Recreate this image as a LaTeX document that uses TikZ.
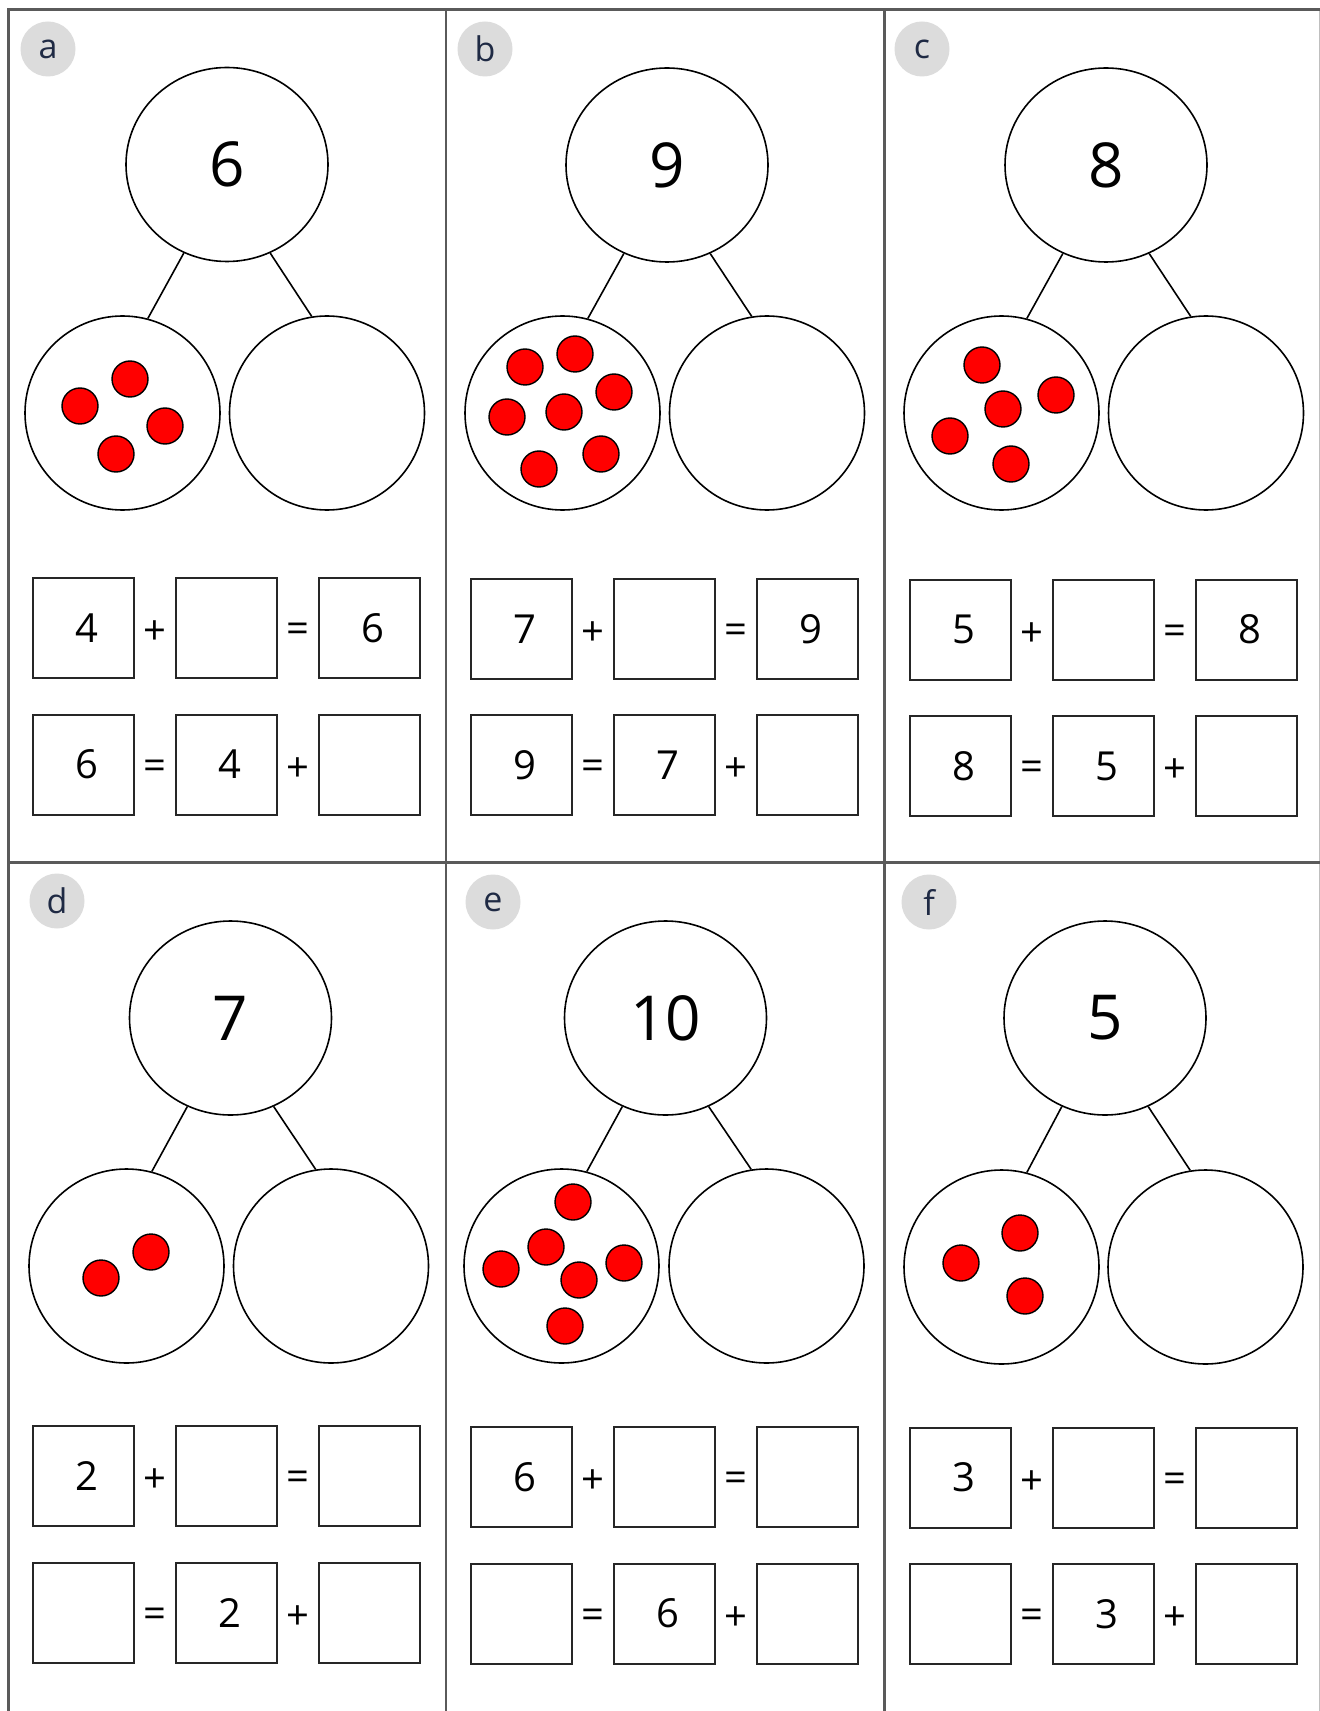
\documentclass[tikz,border=0pt]{standalone}
\usepackage{fontspec}
\setmainfont{Open Sans}
\usetikzlibrary{shapes.geometric}
\definecolor{framegray}{HTML}{5A5A5A}
\definecolor{labgray}{HTML}{DCDCDC}
\definecolor{dotred}{HTML}{FF0000}
\definecolor{labtext}{HTML}{1F2A44}
\tikzset{
  frameline/.style={draw=framegray, line width=1.3pt},
  topc/.style={ellipse, draw=black, line width=0.8pt, minimum width=101pt, minimum height=97pt, inner sep=0pt, font=\fontsize{31}{31}\selectfont},
  botc/.style={ellipse, draw=black, line width=0.8pt, minimum width=97.5pt, minimum height=97pt, inner sep=0pt},
  conn/.style={draw=black, line width=0.8pt},
  lab/.style={circle, fill=labgray, minimum size=27.5pt, inner sep=0pt, text=labtext, font=\fontsize{17}{17}\selectfont},
  eqbox/.style={rectangle, draw=black!85, line width=1pt, minimum width=50.5pt, minimum height=50pt, inner sep=0pt, font=\fontsize{20}{20}\selectfont},
  eqop/.style={inner sep=0pt, font=\fontsize{20}{20}\selectfont},
  dot/.style={circle, fill=dotred, draw=black, line width=0.7pt, minimum size=18pt, inner sep=0pt}
}
\newcommand\eqnum[1]{\hspace*{3pt}\raisebox{-1.5pt}{#1}}
\newcommand\pbond[7]{%
  \node[lab] (#1-lab) at #6 {#7};
  \node[topc] (#1-top) at #2 {#5};
  \node[botc] (#1-l) at #3 {};
  \node[botc] (#1-r) at #4 {};
  \draw[conn] (#1-top.244) -- (#1-l.75);
  \draw[conn] (#1-top.296) -- (#1-r.99);
}
\newcommand\peq[6]{%
  \node[eqbox] (#1-b1) at (#2,#3) {\eqnum{#5}};
  \node[eqbox] (#1-b2) at ({#2+143},#3) {};
  \node[eqbox] (#1-b3) at ({#2+286},#3) {\eqnum{#6}};
  \node[eqop] (#1-o1) at ({#2+71.5},{#3+5}) {+};
  \node[eqop] (#1-o2) at ({#2+214.5},{#3+5}) {=};
  \node[eqbox] (#1-c1) at (#2,#4) {\eqnum{#6}};
  \node[eqbox] (#1-c2) at ({#2+143},#4) {\eqnum{#5}};
  \node[eqbox] (#1-c3) at ({#2+286},#4) {};
  \node[eqop] (#1-p1) at ({#2+71.5},{#4+5}) {=};
  \node[eqop] (#1-p2) at ({#2+214.5},{#4+5}) {+};
}
\begin{document}
\begin{tikzpicture}[x=0.5pt, y=-0.5pt]
\useasboundingbox (0,0) rectangle (1320,1711);
\fill[white] (0,0) rectangle (1320,1711);
% frame
\draw[draw=black!25, line width=0.5pt] (1319,9.5) -- (1319,1711);
\draw[frameline] (8.5,1711) -- (8.5,9.5) -- (1320,9.5);
\draw[frameline] (446,9.5) -- (446,1711);
\draw[frameline] (884.5,9.5) -- (884.5,1711);
\draw[frameline] (8.5,862.5) -- (1320,862.5);
% panels
\pbond{a}{(227,164.5)}{(122.5,413)}{(327,413)}{6}{(48,49)}{a}
\pbond{b}{(667,165)}{(562.5,413)}{(767,413)}{9}{(485,49)}{b}
\pbond{c}{(1106,165)}{(1001.5,413)}{(1206,413)}{8}{(922,49)}{c}
\pbond{d}{(230.5,1018)}{(126.5,1266)}{(331,1266)}{7}{(57,901)}{d}
\pbond{e}{(665.5,1018)}{(561.5,1266)}{(766.5,1266)}{10}{(493,902)}{e}
\pbond{f}{(1105,1018)}{(1001.5,1267)}{(1205.5,1267)}{5}{(929,902)}{f}
% dots
\foreach \x/\y [count=\i] in {80/406,130/379,165/426,116/454}
  \node[dot] (a-dot\i) at (\x,\y) {};
\foreach \x/\y [count=\i] in {525/367,575/354,614/392,507/417,564/412,601/454,539/469}
  \node[dot] (b-dot\i) at (\x,\y) {};
\foreach \x/\y [count=\i] in {982/365,1056/395,1003/409,950/436,1011/464}
  \node[dot] (c-dot\i) at (\x,\y) {};
\foreach \x/\y [count=\i] in {101/1278,151/1252}
  \node[dot] (d-dot\i) at (\x,\y) {};
\foreach \x/\y [count=\i] in {573/1202,546/1247,501/1269,579/1280,624/1263,565/1326}
  \node[dot] (e-dot\i) at (\x,\y) {};
\foreach \x/\y [count=\i] in {1020/1233,961/1263,1025/1296}
  \node[dot] (f-dot\i) at (\x,\y) {};
% equations
\peq{ae}{83.5}{628}{764.5}{4}{6}
\peq{be}{521.5}{629}{765}{7}{9}
\peq{ce}{960.5}{629.5}{766}{5}{8}
\peq{de}{83.5}{1476}{1613}{2}{}
\peq{ee}{521.5}{1477}{1613.5}{6}{}
\peq{fe}{960.5}{1477.5}{1614}{3}{}
\end{tikzpicture}
\end{document}
